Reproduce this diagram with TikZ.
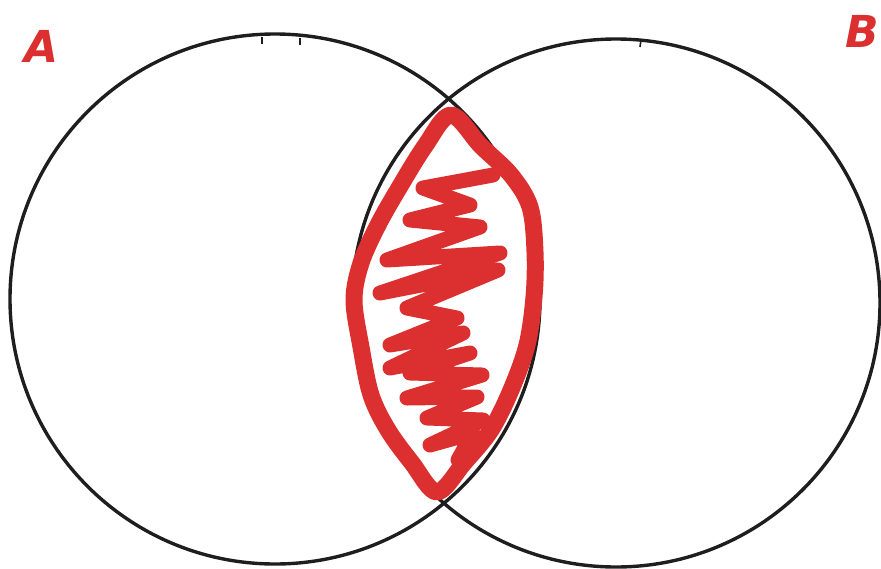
\documentclass[tikz,border=0pt]{standalone}
\usepackage{fontspec}
\setsansfont{DejaVu Sans}
\definecolor{ink}{HTML}{1E1E1E}
\definecolor{redink}{HTML}{DC2F2F}
\begin{document}
\begin{tikzpicture}[x=1pt,y=-1pt,
  circ/.style={draw=ink,line width=3.4pt},
  tick/.style={draw=ink,line width=1.6pt},
  lens/.style={draw=redink,line width=17pt,line join=round,line cap=round},
  hatch/.style={draw=redink,line width=15pt,line join=round,line cap=round},
  lbl/.style={text=redink,font=\sffamily\bfseries\itshape\fontsize{44}{44}\selectfont,inner sep=0pt}]
\useasboundingbox (0,0) rectangle (881,568);
% circles
\draw[circ] (275,299) circle (265);
\draw[circ] (616,303) circle (264);
% sketch ticks
\draw[tick] (262,37) -- (262,44);
\draw[tick] (300,38) -- (300,45);
\draw[tick] (641,40) -- (640,47);
% lens outline
\draw[lens] plot[smooth cycle,tension=0.55] coordinates {
  (451,115) (481,146) (511,175) (530,207) (535,252) (534,297) (527,345)
  (511,390) (491,430) (464,463) (437,492) (412,463) (388,430) (371,395)
  (361,347) (354,300) (361,263) (378,225) (399,188) (425,146)};
% scribble fill
\draw[hatch] (493,175) -- (423,188) -- (470,205) -- (410,220) -- (480,227)
  -- (387,260) -- (500,253) -- (380,293) -- (498,270) -- (407,308)
  -- (457,318) -- (390,345) -- (463,333) -- (390,368) -- (470,353)
  -- (410,373) -- (482,375) -- (407,398) -- (477,397) -- (427,418)
  -- (483,420) -- (430,445) -- (473,433) -- (458,460);
% labels
\node[lbl] (A) at (42,46) {A};
\node[lbl,anchor=east] (B) at (879,31) {B};
\end{tikzpicture}
\end{document}
